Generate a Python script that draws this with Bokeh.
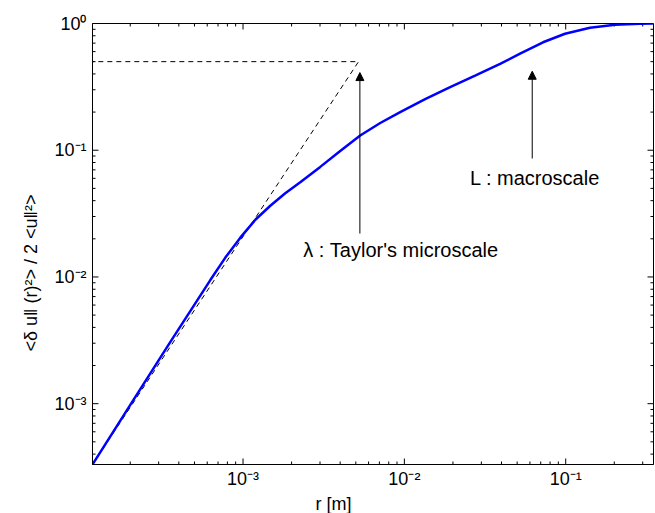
import numpy as np
from bokeh.plotting import figure
from bokeh.models import FixedTicker, Arrow, NormalHead, Label, Title
from bokeh.embed import file_html
from bokeh.resources import INLINE

# --- data ---
r_curve = [1.167e-4, 2.006e-4, 3.546e-4, 6.27e-4, 7.77e-4, 9.62e-4, 1.192e-3, 1.476e-3,
           1.827e-3, 2.263e-3, 3.010e-3, 4.003e-3, 5.323e-3, 7.085e-3, 9.42e-3, 1.345e-2,
           1.921e-2, 2.744e-2, 3.920e-2, 5.212e-2, 7.235e-2, 9.90e-2, 0.1414, 0.2020,
           0.2885, 0.3472]
s_curve = [3.312e-4, 9.82e-4, 3.075e-3, 9.45e-3, 1.421e-2, 2.042e-2, 2.828e-2, 3.645e-2,
           4.571e-2, 5.580e-2, 7.388e-2, 9.874e-2, 0.1307, 0.1640, 0.2001, 0.2533,
           0.3148, 0.3878, 0.4793, 0.5776, 0.7112, 0.8299, 0.9251, 0.9767,
           0.9964, 1.0]

# dashed r^2 asymptote and plateau
r_dash = [1.167e-4, 5.2e-3, 1.167e-4]
s_dash = [3.312e-4, 0.5, 0.5]

lam_r, lam_from, lam_to = 5.3e-3, 0.022, 0.41
L_r, L_from, L_to = 0.062, 0.086, 0.42

x_lo, x_hi = 1.167e-4, 0.35
y_lo, y_hi = 3.312e-4, 1.0

x_major = [1e-3, 1e-2, 1e-1]
x_major_labels = ["10⁻³", "10⁻²", "10⁻¹"]
y_major = [1e-3, 1e-2, 1e-1, 1.0]
y_major_labels = ["10⁻³", "10⁻²", "10⁻¹", "10⁰"]

x_minor = [m * 10.0 ** e for e in range(-4, 0) for m in range(2, 10)]
y_minor = [m * 10.0 ** e for e in range(-4, 0) for m in range(2, 10)]
x_minor = [v for v in x_minor if x_lo < v < x_hi]
y_minor = [v for v in y_minor if y_lo < v < y_hi]

# tick lengths expressed as multiplicative steps on the log axes (style)
TICK_Y_MAJOR, TICK_Y_MINOR = 1.115, 1.056   # vertical ticks on bottom / top
TICK_X_MAJOR, TICK_X_MINOR = 1.089, 1.044   # horizontal ticks on left / right

FONT = "Liberation Sans"

p = figure(width=655, height=513, x_axis_type="log", y_axis_type="log",
           x_range=(x_lo, x_hi), y_range=(y_lo, y_hi),
           output_backend="svg", toolbar_location=None,
           min_border_left=92, min_border_right=2, min_border_top=23, min_border_bottom=48)
p.xgrid.visible = False
p.ygrid.visible = False
p.outline_line_color = "black"
p.outline_line_alpha = 1.0
p.outline_line_width = 1
p.background_fill_color = "white"
p.border_fill_color = "white"

for ax, ticks, labels in [(p.xaxis[0], x_major, x_major_labels),
                          (p.yaxis[0], y_major, y_major_labels)]:
    ax.ticker = FixedTicker(ticks=ticks, minor_ticks=[])
    ax.major_label_overrides = {t: l for t, l in zip(ticks, labels)}
    ax.major_label_text_font = FONT
    ax.major_label_text_font_size = "18px"
    ax.major_label_text_color = "black"
    ax.major_tick_in = 0
    ax.major_tick_out = 0
    ax.minor_tick_in = 0
    ax.minor_tick_out = 0
    ax.axis_line_color = "black"
p.xaxis[0].major_label_standoff = 4
p.yaxis[0].major_label_standoff = 6

# inward tick marks on all four sides
def vticks(vals, y0, y1):
    n = len(vals)
    p.segment(x0=vals, y0=[y0] * n, x1=vals, y1=[y1] * n, line_color="black", line_width=1)

def hticks(vals, x0, x1):
    n = len(vals)
    p.segment(x0=[x0] * n, y0=vals, x1=[x1] * n, y1=vals, line_color="black", line_width=1)

vticks(x_major, y_lo, y_lo * TICK_Y_MAJOR)
vticks(x_minor, y_lo, y_lo * TICK_Y_MINOR)
vticks(x_major, y_hi, y_hi / TICK_Y_MAJOR)
vticks(x_minor, y_hi, y_hi / TICK_Y_MINOR)
hticks(y_major, x_lo, x_lo * TICK_X_MAJOR)
hticks(y_minor, x_lo, x_lo * TICK_X_MINOR)
hticks(y_major, x_hi, x_hi / TICK_X_MAJOR)
hticks(y_minor, x_hi, x_hi / TICK_X_MINOR)

# curves
p.line(r_dash, s_dash, line_color="black", line_width=1, line_dash="5 4")
p.line(r_curve, s_curve, line_color="#0000ff", line_width=2.5)

# arrows
for xr, y0, y1 in [(lam_r, lam_from, lam_to), (L_r, L_from, L_to)]:
    p.add_layout(Arrow(x_start=xr, y_start=y0, x_end=xr, y_end=y1,
                       line_color="black", line_width=1,
                       end=NormalHead(size=8, fill_color="black", line_color="black")))

p.add_layout(Label(x=2.36e-3, y=0.0163, text="λ : Taylor's microscale",
                   text_font=FONT, text_font_size="20px", text_baseline="middle",
                   text_color="black"))
p.add_layout(Label(x=0.0255, y=0.06, text="L : macroscale",
                   text_font=FONT, text_font_size="20px", text_baseline="middle",
                   text_color="black"))

# axis titles
p.add_layout(Title(text="r [m]", align="left", offset=223, standoff=0,
                   text_font=FONT, text_font_size="18px", text_font_style="normal",
                   text_color="black"), "below")
p.add_layout(Title(text="<δ u‖ (r)²> / 2 <u‖²>", align="left", offset=113, standoff=22,
                   text_font=FONT, text_font_size="18px", text_font_style="normal",
                   text_color="black"), "left")

open("out.html", "w").write(file_html(p, INLINE))
